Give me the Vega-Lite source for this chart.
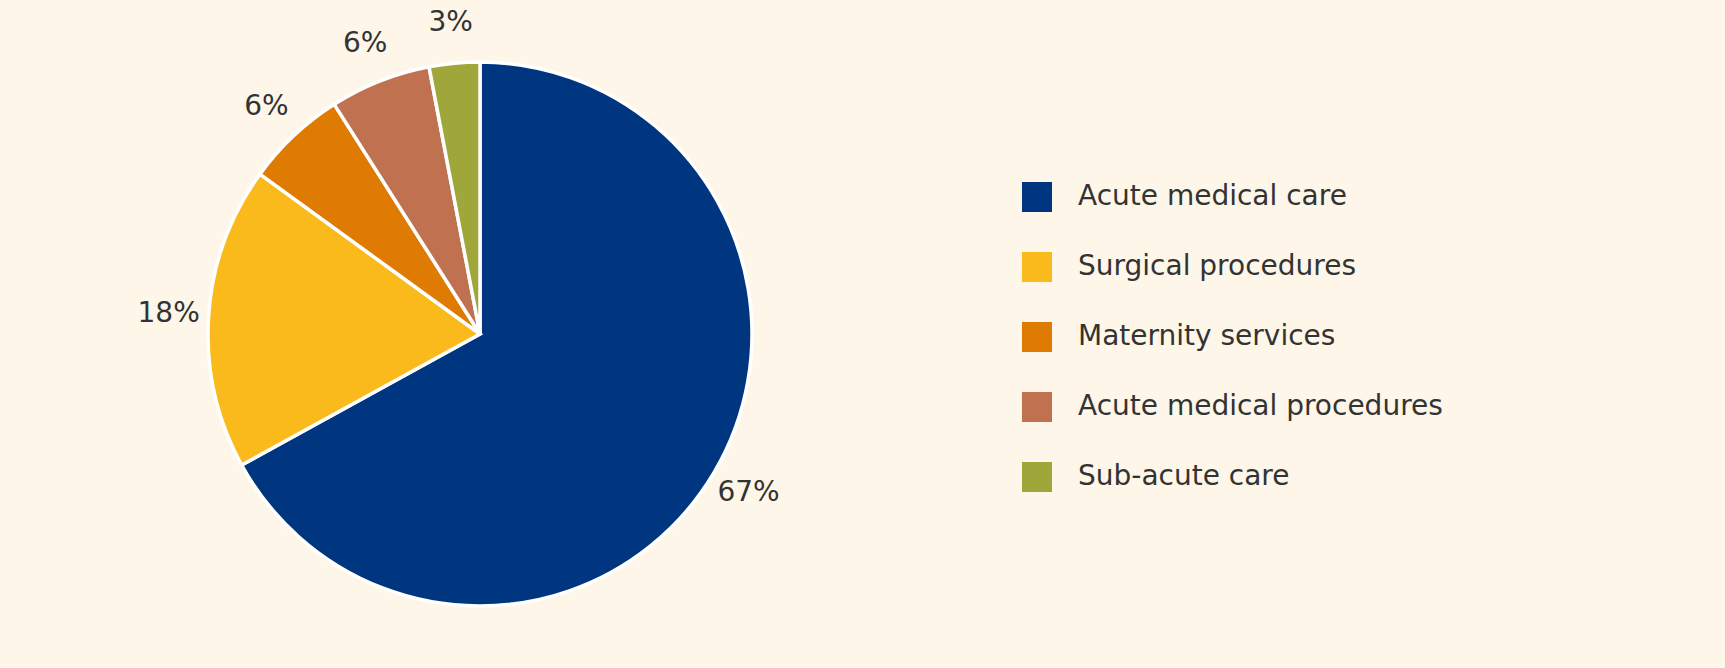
{
  "$schema": "https://vega.github.io/schema/vega-lite/v6.json",
  "width": 960,
  "height": 668,
  "autosize": {"type": "none"},
  "padding": {"left": 0, "top": 0, "right": 765, "bottom": 0},
  "background": "#FEF6E8",
  "config": {"view": {"stroke": null}, "font": "DejaVu Sans"},
  "data": {
    "values": [
      {"category": "Acute medical care", "share": 67, "label": "67%", "ord": 1},
      {"category": "Surgical procedures", "share": 18, "label": "18%", "ord": 2},
      {"category": "Maternity services", "share": 6, "label": "6%", "ord": 3},
      {"category": "Acute medical procedures", "share": 6, "label": "6%", "ord": 4},
      {"category": "Sub-acute care", "share": 3, "label": "3%", "ord": 5}
    ]
  },
  "encoding": {
    "theta": {"field": "share", "type": "quantitative", "stack": true},
    "order": {"field": "ord", "type": "quantitative"},
    "color": {
      "field": "category",
      "type": "nominal",
      "sort": null,
      "scale": {
        "domain": ["Acute medical care", "Surgical procedures", "Maternity services", "Acute medical procedures", "Sub-acute care"],
        "range": ["#00367F", "#FBBA1B", "#DF7A02", "#C0714F", "#9FA73B"]
      },
      "legend": {
        "title": null,
        "orient": "none",
        "legendX": 1022,
        "legendY": 182,
        "symbolType": "square",
        "symbolSize": 900,
        "symbolStrokeWidth": 0,
        "symbolOpacity": 1,
        "labelFontSize": 28,
        "labelColor": "#333333",
        "labelFont": "DejaVu Sans",
        "labelOffset": 26,
        "rowPadding": 40,
        "labelLimit": 600
      }
    }
  },
  "layer": [
    {
      "mark": {"type": "arc", "outerRadius": 272, "stroke": "#FFFFFF", "strokeWidth": 3.5}
    },
    {
      "mark": {"type": "text", "radius": 312, "fontSize": 28, "fill": "#333333"},
      "encoding": {
        "text": {"field": "label", "type": "nominal"},
        "color": {"value": "#333333"}
      }
    }
  ]
}
